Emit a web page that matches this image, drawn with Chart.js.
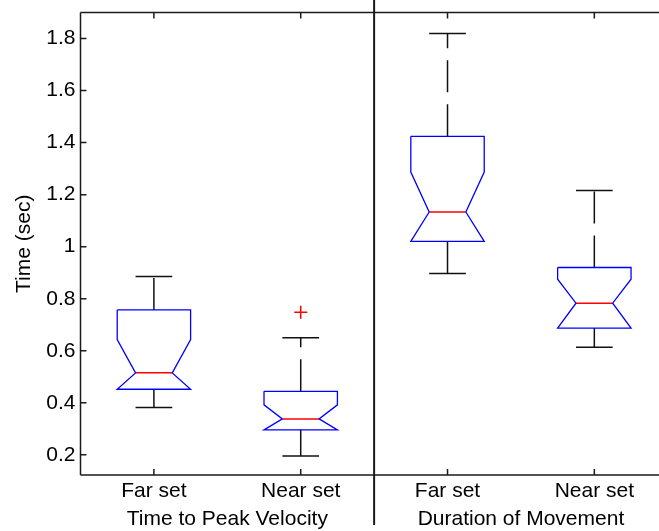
<!DOCTYPE html>
<html><head><meta charset="utf-8">
<script src="https://cdn.jsdelivr.net/npm/chart.js@4/dist/chart.umd.min.js"></script>
<style>html,body{margin:0;padding:0;background:#fff;overflow:hidden}</style>
</head><body><canvas id="c" width="659" height="531"></canvas>
<script>
// ---- data ----
const categories = ['Far set', 'Near set', 'Far set', 'Near set'];
const positions = [1, 2, 3, 4];
const groups = ['Time to Peak Velocity', 'Duration of Movement'];
const groupPositions = [1.5, 3.5];
const whiskerLow  = [0.382, 0.196, 0.897, 0.613];
const q1          = [0.452, 0.296, 1.020, 0.687];
const median      = [0.515, 0.338, 1.133, 0.783];
const notchHigh   = [0.643, 0.392, 1.287, 0.875];
const q3          = [0.757, 0.444, 1.424, 0.920];
const whiskerHigh = [0.885, 0.650, 1.819, 1.216];
const outliers    = [[], [0.748], [], []];
const yTicks      = [0.2, 0.4, 0.6, 0.8, 1, 1.2, 1.4, 1.6, 1.8];
const yTickLabels = ['0.2', '0.4', '0.6', '0.8', '1', '1.2', '1.4', '1.6', '1.8'];
const yTitle = 'Time (sec)';

// ---- style / axis-range constants ----
const BOX_HALF = 0.25, NOTCH_HALF = 0.125, CAP_HALF = 0.125;
const X_MIN = 0.5, X_MAX = 4.386;
const FONT = '"Liberation Sans", Arial, sans-serif';
const FS = 21;

const datasets = [];
positions.forEach((x, i) => {
  // notched box outline
  datasets.push({
    data: [
      {x: x - BOX_HALF, y: q3[i]}, {x: x + BOX_HALF, y: q3[i]},
      {x: x + BOX_HALF, y: notchHigh[i]}, {x: x + NOTCH_HALF, y: median[i]},
      {x: x + BOX_HALF, y: q1[i]}, {x: x - BOX_HALF, y: q1[i]},
      {x: x - NOTCH_HALF, y: median[i]}, {x: x - BOX_HALF, y: notchHigh[i]},
      {x: x - BOX_HALF, y: q3[i]}
    ],
    showLine: true, borderColor: '#0000ff', borderWidth: 1.3, pointRadius: 0, fill: false, tension: 0
  });
  // median
  datasets.push({
    data: [{x: x - NOTCH_HALF, y: median[i]}, {x: x + NOTCH_HALF, y: median[i]}],
    showLine: true, borderColor: '#ff0000', borderWidth: 1.5, pointRadius: 0
  });
  // whiskers, dashed from the box outward
  datasets.push({
    data: [{x: x, y: q3[i]}, {x: x, y: whiskerHigh[i]}],
    showLine: true, borderColor: '#111', borderWidth: 1.5, borderDash: [32, 12], pointRadius: 0
  });
  datasets.push({
    data: [{x: x, y: q1[i]}, {x: x, y: whiskerLow[i]}],
    showLine: true, borderColor: '#111', borderWidth: 1.5, borderDash: [32, 12], pointRadius: 0
  });
  // whisker caps
  datasets.push({
    data: [{x: x - CAP_HALF, y: whiskerHigh[i]}, {x: x + CAP_HALF, y: whiskerHigh[i]}],
    showLine: true, borderColor: '#111', borderWidth: 1.5, pointRadius: 0
  });
  datasets.push({
    data: [{x: x - CAP_HALF, y: whiskerLow[i]}, {x: x + CAP_HALF, y: whiskerLow[i]}],
    showLine: true, borderColor: '#111', borderWidth: 1.5, pointRadius: 0
  });
  // outliers
  if (outliers[i].length) {
    datasets.push({
      data: outliers[i].map(v => ({x: x, y: v})),
      showLine: false, pointStyle: 'cross', pointRadius: 6.5, pointBorderColor: '#ff0000',
      pointBorderWidth: 1.5, pointBackgroundColor: '#ff0000'
    });
  }
});

const framePlugin = {
  id: 'frame',
  afterDatasetsDraw(chart) {
    const {ctx, chartArea: a, scales} = chart;
    const xs = scales.x, ys = scales.y;
    ctx.save();
    ctx.strokeStyle = '#1a1a1a';
    ctx.lineWidth = 1.5;
    ctx.beginPath();
    ctx.moveTo(a.left, a.top); ctx.lineTo(a.left, a.bottom);
    ctx.moveTo(a.left, a.bottom); ctx.lineTo(chart.width, a.bottom);
    ctx.moveTo(a.left, a.top); ctx.lineTo(chart.width, a.top);
    yTicks.forEach(v => {
      const py = ys.getPixelForValue(v);
      ctx.moveTo(a.left, py); ctx.lineTo(a.left + 6, py);
    });
    positions.forEach(v => {
      const px = xs.getPixelForValue(v);
      ctx.moveTo(px, a.bottom); ctx.lineTo(px, a.bottom - 6);
      ctx.moveTo(px, a.top); ctx.lineTo(px, a.top + 6);
    });
    ctx.stroke();
    // divider between the two groups
    ctx.lineWidth = 2;
    ctx.beginPath();
    const dx = xs.getPixelForValue(2.5);
    ctx.moveTo(dx, 0); ctx.lineTo(dx, 525);
    ctx.stroke();
    ctx.restore();
  }
};

const noPadH = s => { s.paddingLeft = 0; s.paddingRight = 0; };

new Chart(document.getElementById('c'), {
  type: 'scatter',
  data: {datasets},
  plugins: [framePlugin],
  options: {
    responsive: false, animation: false, events: [],
    layout: {padding: {top: 12.5, right: 0, bottom: 0, left: 0}},
    plugins: {legend: {display: false}, tooltip: {enabled: false}},
    scales: {
      x: {
        type: 'linear', position: 'bottom', min: X_MIN, max: X_MAX,
        afterBuildTicks: s => { s.ticks = positions.map(v => ({value: v})); },
        afterFit: s => { s.height = 30; noPadH(s); },
        grid: {display: false, drawTicks: false}, border: {display: false},
        ticks: {autoSkip: false, maxRotation: 0, padding: 4, color: '#000', font: {family: FONT, size: FS},
          callback: v => categories[positions.indexOf(v)]}
      },
      x2: {
        type: 'linear', position: 'bottom', min: X_MIN, max: X_MAX,
        afterBuildTicks: s => { s.ticks = groupPositions.map(v => ({value: v})); },
        afterFit: s => { s.height = 26; noPadH(s); },
        grid: {display: false, drawTicks: false}, border: {display: false},
        ticks: {autoSkip: false, maxRotation: 0, padding: 2, color: '#000', font: {family: FONT, size: FS},
          callback: v => groups[groupPositions.indexOf(v)]}
      },
      y: {
        type: 'linear', min: 0.1225, max: 1.9,
        afterBuildTicks: s => { s.ticks = yTicks.map(v => ({value: v})); },
        afterFit: s => { s.width = 80.5; s.paddingTop = 0; s.paddingBottom = 0; noPadH(s); },
        grid: {display: false, drawTicks: false}, border: {display: false},
        title: {display: true, text: yTitle, color: '#000', font: {family: FONT, size: FS}, padding: {top: 12, bottom: 0}},
        ticks: {padding: 5, color: '#000', font: {family: FONT, size: FS},
          callback: v => yTickLabels[yTicks.indexOf(v)]}
      }
    }
  }
});
</script>
</body></html>
